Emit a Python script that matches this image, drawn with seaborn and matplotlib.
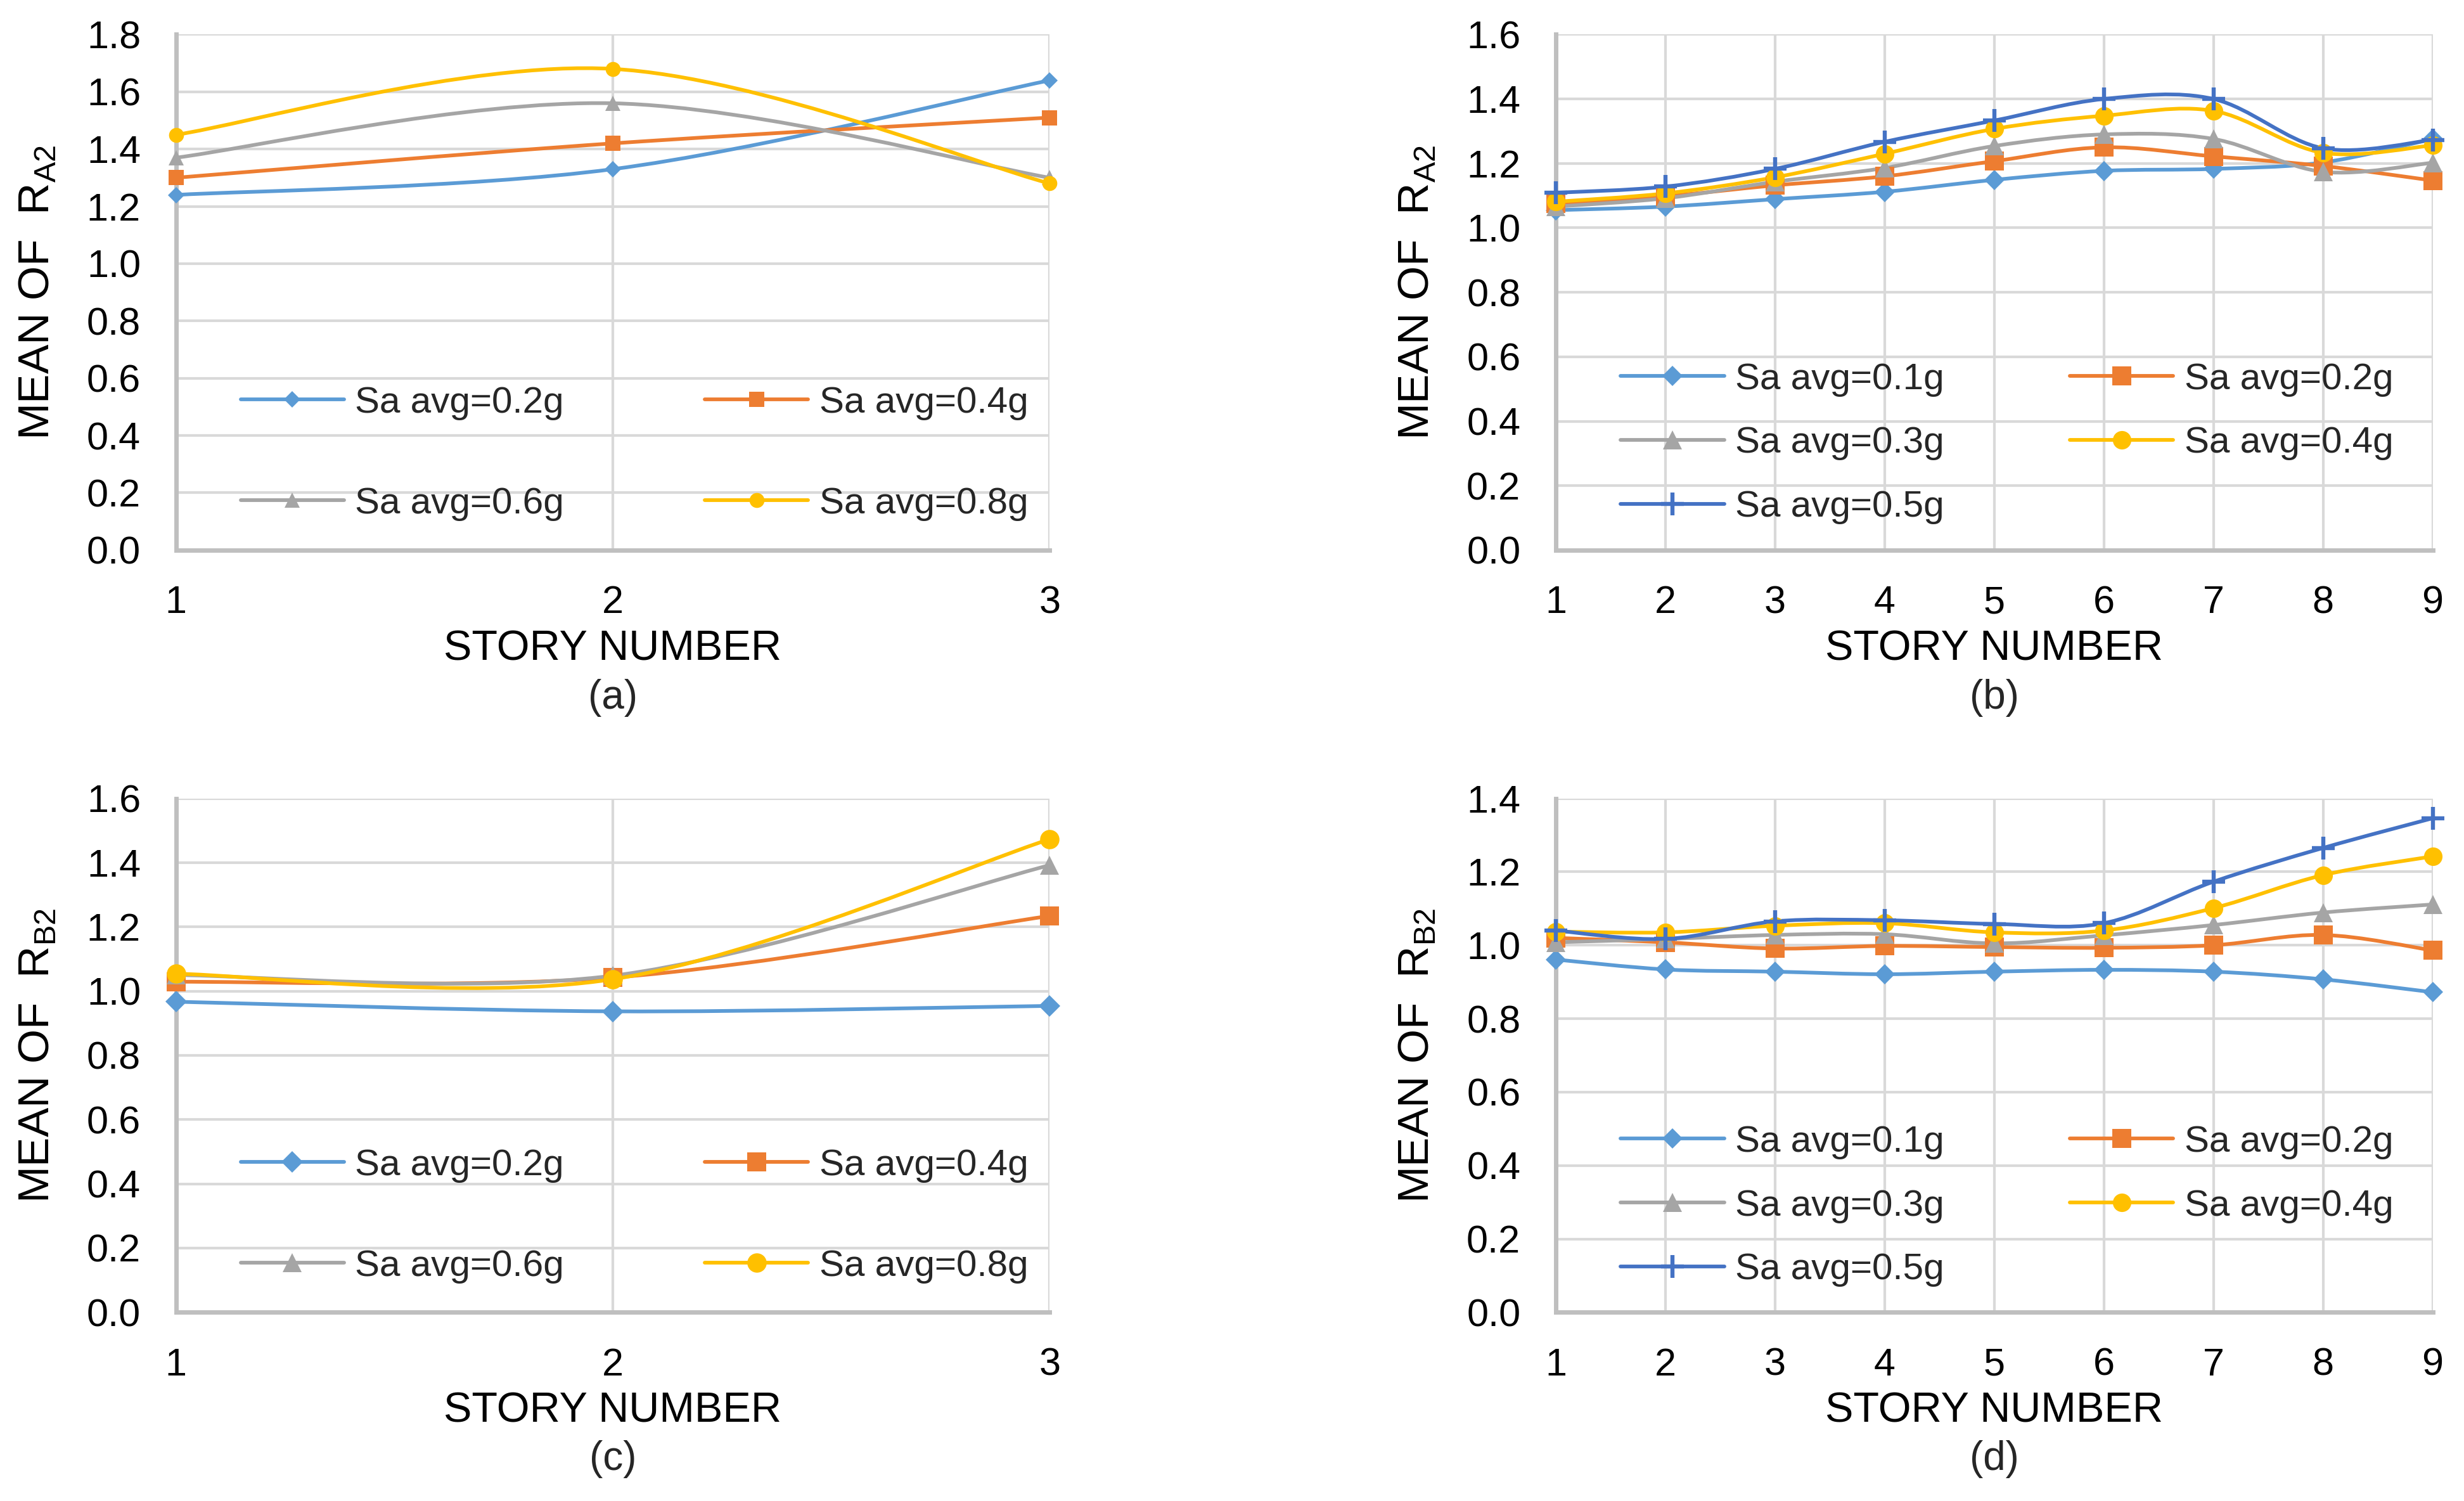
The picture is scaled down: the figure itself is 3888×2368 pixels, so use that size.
import matplotlib.pyplot as plt
import numpy as np
import pandas as pd
import seaborn as sns
from matplotlib.path import Path
from matplotlib.patches import PathPatch
from matplotlib.lines import Line2D
from matplotlib.ticker import FormatStrFormatter

# Data
stories_3 = [1, 2, 3]
stories_9 = [1, 2, 3, 4, 5, 6, 7, 8, 9]

labels_3 = ['Sa avg=0.2g', 'Sa avg=0.4g', 'Sa avg=0.6g', 'Sa avg=0.8g']
labels_9 = ['Sa avg=0.1g', 'Sa avg=0.2g', 'Sa avg=0.3g', 'Sa avg=0.4g', 'Sa avg=0.5g']

# (a) mean of R_A2, 3-story
a_02 = [1.24, 1.33, 1.64]
a_04 = [1.30, 1.42, 1.51]
a_06 = [1.37, 1.56, 1.30]
a_08 = [1.45, 1.68, 1.28]

# (b) mean of R_A2, 9-story
b_01 = [1.055, 1.066, 1.089, 1.112, 1.149, 1.177, 1.183, 1.203, 1.276]
b_02 = [1.075, 1.098, 1.132, 1.160, 1.207, 1.250, 1.222, 1.192, 1.147]
b_03 = [1.066, 1.092, 1.143, 1.186, 1.254, 1.290, 1.276, 1.174, 1.202]
b_04 = [1.081, 1.107, 1.157, 1.230, 1.307, 1.348, 1.363, 1.233, 1.256]
b_05 = [1.109, 1.128, 1.183, 1.267, 1.333, 1.400, 1.400, 1.247, 1.273]

# (c) mean of R_B2, 3-story
c_02 = [0.967, 0.937, 0.954]
c_04 = [1.029, 1.042, 1.234]
c_06 = [1.050, 1.048, 1.392]
c_08 = [1.054, 1.037, 1.473]

# (d) mean of R_B2, 9-story
d_01 = [0.961, 0.934, 0.928, 0.921, 0.928, 0.933, 0.928, 0.907, 0.872]
d_02 = [1.020, 1.008, 0.991, 0.998, 0.995, 0.993, 1.000, 1.028, 0.986]
d_03 = [1.008, 1.017, 1.028, 1.030, 1.005, 1.027, 1.055, 1.089, 1.111]
d_04 = [1.037, 1.035, 1.053, 1.060, 1.035, 1.040, 1.101, 1.191, 1.242]
d_05 = [1.040, 1.017, 1.065, 1.068, 1.058, 1.060, 1.173, 1.265, 1.346]

colors_3 = ['#5B9BD5', '#ED7D31', '#A5A5A5', '#FFC000']
colors_9 = ['#5B9BD5', '#ED7D31', '#A5A5A5', '#FFC000', '#4472C4']
markers_3 = ['D', 's', '^', 'o']
markers_9 = ['D', 's', '^', 'o', '+']
marker_scale = {'D': 0.8, 's': 1.0, '^': 1.0, 'o': 1.0, '+': 1.25}

sns.set_theme(style='white')
plt.rcParams['font.family'] = ['Liberation Sans', 'DejaVu Sans']
plt.rcParams['mathtext.fontset'] = 'custom'
plt.rcParams['mathtext.rm'] = 'Liberation Sans'


def smooth_path(x, y):
    # excel-like smoothed line (catmull-rom as cubic bezier)
    pts = np.column_stack([x, y]).astype(float)
    n = len(pts)
    verts = [pts[0]]
    codes = [Path.MOVETO]
    for i in range(n - 1):
        p0 = pts[max(i - 1, 0)]
        p1 = pts[i]
        p2 = pts[i + 1]
        p3 = pts[min(i + 2, n - 1)]
        verts += [p1 + (p2 - p0) / 6, p2 - (p3 - p1) / 6, p2]
        codes += [Path.CURVE4] * 3
    return Path(verts, codes)


def draw_panel(ax, x, series, labels, colors, markers, ymax, ms, ylabel, tag,
               leg_y, labelspacing, colspacing):
    handles = []
    for vals, lab, col, mk in zip(series, labels, colors, markers):
        ax.add_patch(PathPatch(smooth_path(x, vals), facecolor='none',
                               edgecolor=col, lw=2.1, zorder=3))
        mew = 2.3 if mk == '+' else 0
        size = ms * marker_scale[mk]
        df = pd.DataFrame({'x': x, 'y': vals})
        sns.lineplot(data=df, x='x', y='y', ax=ax, linestyle='', marker=mk,
                     markersize=size, color=col, markeredgecolor=col,
                     markeredgewidth=mew, clip_on=False, zorder=4)
        handles.append(Line2D([0], [0], color=col, lw=2.1, marker=mk,
                              markersize=size, markeredgecolor=col,
                              markeredgewidth=mew))

    ax.set_xlim(1, len(x))
    ax.set_ylim(0, ymax)
    ax.set_xticks(x)
    ax.set_yticks(np.arange(0, ymax + 0.001, 0.2))
    ax.yaxis.set_major_formatter(FormatStrFormatter('%.1f'))
    ax.grid(True, color='#D9D9D9', lw=1.5)
    ax.set_axisbelow(True)
    for s in ['top', 'right']:
        ax.spines[s].set_visible(False)
    for s in ['left', 'bottom']:
        ax.spines[s].set_color('#BFBFBF')
        ax.spines[s].set_linewidth(2.5)
    ax.tick_params(length=0, pad=20, labelsize=22, labelcolor='black')

    ax.set_xlabel('STORY NUMBER', fontsize=24, color='black', va='center')
    ax.xaxis.set_label_coords(0.5, -0.192)
    ax.set_ylabel(ylabel, fontsize=25, color='black', va='center')
    ax.yaxis.set_label_coords(-0.158, 0.5)
    ax.text(0.5, -0.286, tag, transform=ax.transAxes, ha='center',
            va='center', fontsize=23)

    # row-major order like Excel
    order = list(range(0, len(handles), 2)) + list(range(1, len(handles), 2))
    ax.legend([handles[i] for i in order], [labels[i] for i in order],
              ncol=2, frameon=False, loc='center left',
              bbox_to_anchor=(0.074, leg_y), borderpad=0, borderaxespad=0,
              fontsize=21, handlelength=2.8, handletextpad=0.3,
              labelspacing=labelspacing, columnspacing=colspacing)


fig = plt.figure(figsize=(19.44, 11.84), dpi=200)
ax_a = fig.add_axes([0.0714, 0.6335, 0.3546, 0.3435])
ax_b = fig.add_axes([0.6314, 0.6335, 0.3559, 0.3435])
ax_c = fig.add_axes([0.0714, 0.1257, 0.3546, 0.3424])
ax_d = fig.add_axes([0.6314, 0.1257, 0.3559, 0.3424])

ra2 = 'MEAN OF  R$_{\\mathregular{A2}}$'
rb2 = 'MEAN OF  R$_{\\mathregular{B2}}$'

draw_panel(ax_a, stories_3, [a_02, a_04, a_06, a_08], labels_3, colors_3,
           markers_3, 1.8, 8.5, ra2, '(a)', 0.1875, 1.8, 3.8)
draw_panel(ax_b, stories_9, [b_01, b_02, b_03, b_04, b_05], labels_9, colors_9,
           markers_9, 1.6, 10.5, ra2, '(b)', 0.207, 0.8, 3.4)
draw_panel(ax_c, stories_3, [c_02, c_04, c_06, c_08], labels_3, colors_3,
           markers_3, 1.6, 11, rb2, '(c)', 0.1875, 1.8, 3.8)
draw_panel(ax_d, stories_9, [d_01, d_02, d_03, d_04, d_05], labels_9, colors_9,
           markers_9, 1.4, 10.5, rb2, '(d)', 0.207, 0.8, 3.4)

fig.savefig('out.png', dpi=200, facecolor='white')
